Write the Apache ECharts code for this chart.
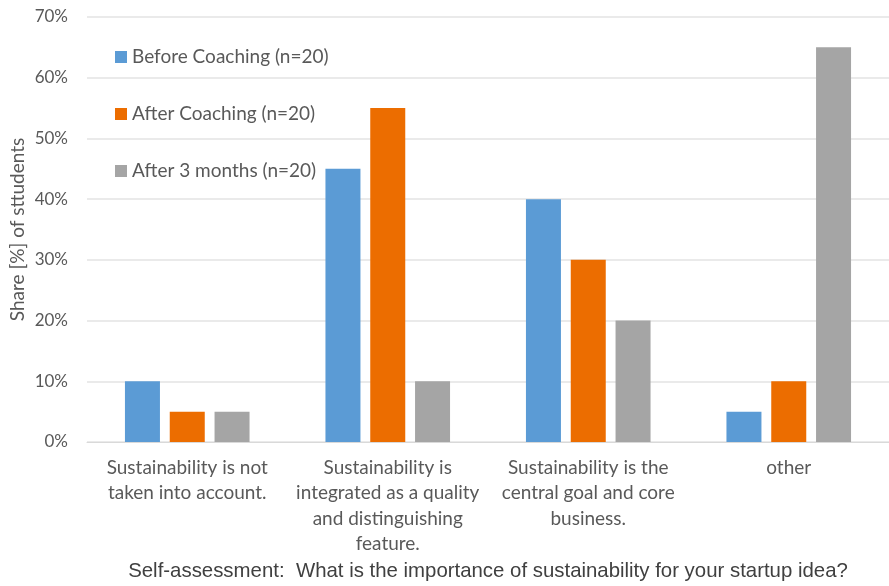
<!DOCTYPE html>
<html>
<head>
<meta charset="utf-8">
<script src="https://cdn.jsdelivr.net/npm/echarts@6/dist/echarts.min.js"></script>
<style>
  html, body { margin: 0; padding: 0; background: #fff; }
  #chart { width: 889px; height: 586px; }
</style>
</head>
<body>
<div id="chart"></div>
<script>
// Answer categories (line breaks as printed under the axis)
const categories = [
  'Sustainability is not\ntaken into account.',
  'Sustainability is\nintegrated as a quality\nand distinguishing\nfeature.',
  'Sustainability is the\ncentral goal and core\nbusiness.',
  'other'
];
const seriesNames = ['Before Coaching (n=20)', 'After Coaching (n=20)', 'After 3 months (n=20)'];
// Share of students, percent
const beforeCoaching = [10, 45, 40, 5];
const afterCoaching = [5, 55, 30, 10];
const afterThreeMonths = [5, 10, 20, 65];
const colors = ['#5B9BD5', '#EC6D00', '#A5A5A5'];

const font = 'Lato, "Open Sans", sans-serif';
const chart = echarts.init(document.getElementById('chart'), null, { renderer: 'canvas' });

const values = [beforeCoaching, afterCoaching, afterThreeMonths];

chart.setOption({
  animation: false,
  color: colors,
  grid: { left: 87, right: 0, top: 17, bottom: 144, containLabel: false, outerBoundsMode: 'none' },
  legend: {
    orient: 'vertical',
    left: 115,
    top: 47,
    padding: 0,
    itemWidth: 12,
    itemHeight: 12,
    itemGap: 37,
    icon: 'rect',
    data: seriesNames,
    textStyle: { fontFamily: font, fontSize: 19, color: '#595959', lineHeight: 20 }
  },
  title: {
    text: 'Self-assessment:  What is the importance of sustainability for your startup idea?',
    left: 483,
    textAlign: 'center',
    top: 556,
    textStyle: { fontFamily: '"Liberation Sans", Arial, sans-serif', fontSize: 20.4, fontWeight: 'normal', color: '#404040' }
  },
  xAxis: {
    type: 'category',
    data: categories,
    axisLine: { show: true, lineStyle: { color: '#D9D9D9', width: 1 } },
    axisTick: { show: false },
    axisLabel: {
      interval: 0,
      margin: 13,
      fontFamily: font,
      fontSize: 19,
      lineHeight: 25.5,
      color: '#595959',
      align: 'center'
    }
  },
  yAxis: {
    type: 'value',
    min: 0,
    max: 70,
    interval: 10,
    name: 'Share [%] of sttudents',
    nameLocation: 'middle',
    nameGap: 60,
    nameMoveOverlap: false,
    nameTextStyle: { fontFamily: font, fontSize: 19, color: '#595959' },
    axisLine: { show: false },
    axisTick: { show: false },
    axisLabel: {
      formatter: '{value}%',
      margin: 19,
      fontFamily: font,
      fontSize: 17,
      color: '#595959'
    },
    splitLine: { lineStyle: { color: '#E3E3E3', width: 1.5 } }
  },
  series: seriesNames.map((name, i) => ({
    name: name,
    type: 'bar',
    data: values[i],
    barWidth: 35,
    barGap: '28%',
    itemStyle: { color: colors[i] }
  }))
});
</script>
</body>
</html>
